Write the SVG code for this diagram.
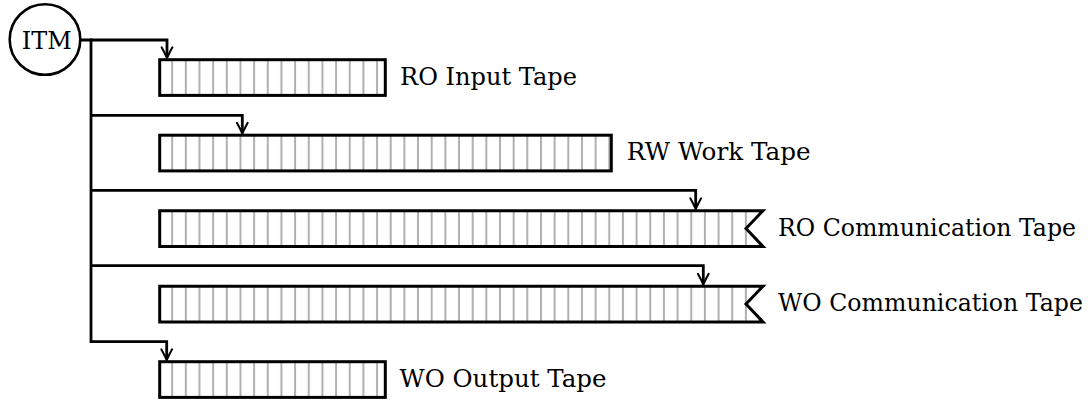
<svg xmlns="http://www.w3.org/2000/svg" width="1091" height="402" viewBox="0 0 1091 402">
<style>
.tape{fill:url(#cells);stroke:#000;stroke-width:3;stroke-linejoin:miter;stroke-miterlimit:10}
.conn{fill:none;stroke:#000;stroke-width:2.8;stroke-linejoin:miter;stroke-linecap:butt}
text{font-family:'DejaVu Serif','Liberation Serif',serif;font-size:23.6px;fill:#000}
</style>
<defs>
<pattern id="cells" patternUnits="userSpaceOnUse" x="151.67" y="0" width="13.66" height="402">
<rect x="0" y="0" width="13.66" height="402" fill="#fff"/>
<line x1="6.83" y1="0" x2="6.83" y2="402" stroke="#b0b0b0" stroke-width="2"/>
</pattern>
<marker id="arr" markerUnits="userSpaceOnUse" orient="auto" refX="-1.8" refY="0" markerWidth="20" markerHeight="20" overflow="visible">
<path d="M -11,-5.4 Q -3.8,-1.5 0,0 Q -3.8,1.5 -11,5.4" fill="none" stroke="#000" stroke-width="2" stroke-linecap="round"/>
</marker>
</defs>

<g id="connectors">
<path class="conn" d="M 80,40 H 167 V 56.5" marker-end="url(#arr)"/>
<path class="conn" d="M 91,38.6 V 341.6 H 166.7 V 358.5" marker-end="url(#arr)"/>
<path class="conn" d="M 91,115.4 H 242.3 V 132" marker-end="url(#arr)"/>
<path class="conn" d="M 91,190.3 H 695.7 V 207.5" marker-end="url(#arr)"/>
<path class="conn" d="M 91,265.6 H 703.3 V 283" marker-end="url(#arr)"/>
</g>

<g id="itm">
<circle cx="45" cy="39.5" r="35.3" fill="#fff" stroke="#000" stroke-width="2.6"/>
<text x="46.7" y="49.3" text-anchor="middle" textLength="50" lengthAdjust="spacingAndGlyphs">ITM</text>
</g>

<g id="ro-input-tape">
<rect class="tape" x="159.7" y="59.7" width="225.6" height="35.7"/>
<text x="400" y="84.5" textLength="177" lengthAdjust="spacingAndGlyphs">RO Input Tape</text>
</g>

<g id="rw-work-tape">
<rect class="tape" x="159.7" y="135.2" width="451.6" height="35.7"/>
<text x="626.7" y="159.8" textLength="184" lengthAdjust="spacingAndGlyphs">RW Work Tape</text>
</g>

<g id="ro-communication-tape">
<path class="tape" d="M 159.7,210.7 H 763 L 746,228.55 L 763,246.4 H 159.7 Z"/>
<text x="778" y="235.5" textLength="298" lengthAdjust="spacingAndGlyphs">RO Communication Tape</text>
</g>

<g id="wo-communication-tape">
<path class="tape" d="M 159.7,286.2 H 763 L 746,304.05 L 763,321.9 H 159.7 Z"/>
<text x="778" y="311" textLength="305" lengthAdjust="spacingAndGlyphs">WO Communication Tape</text>
</g>

<g id="wo-output-tape">
<rect class="tape" x="159.7" y="361.7" width="225.6" height="35.7"/>
<text x="399.5" y="386.6" textLength="207" lengthAdjust="spacingAndGlyphs">WO Output Tape</text>
</g>
</svg>
